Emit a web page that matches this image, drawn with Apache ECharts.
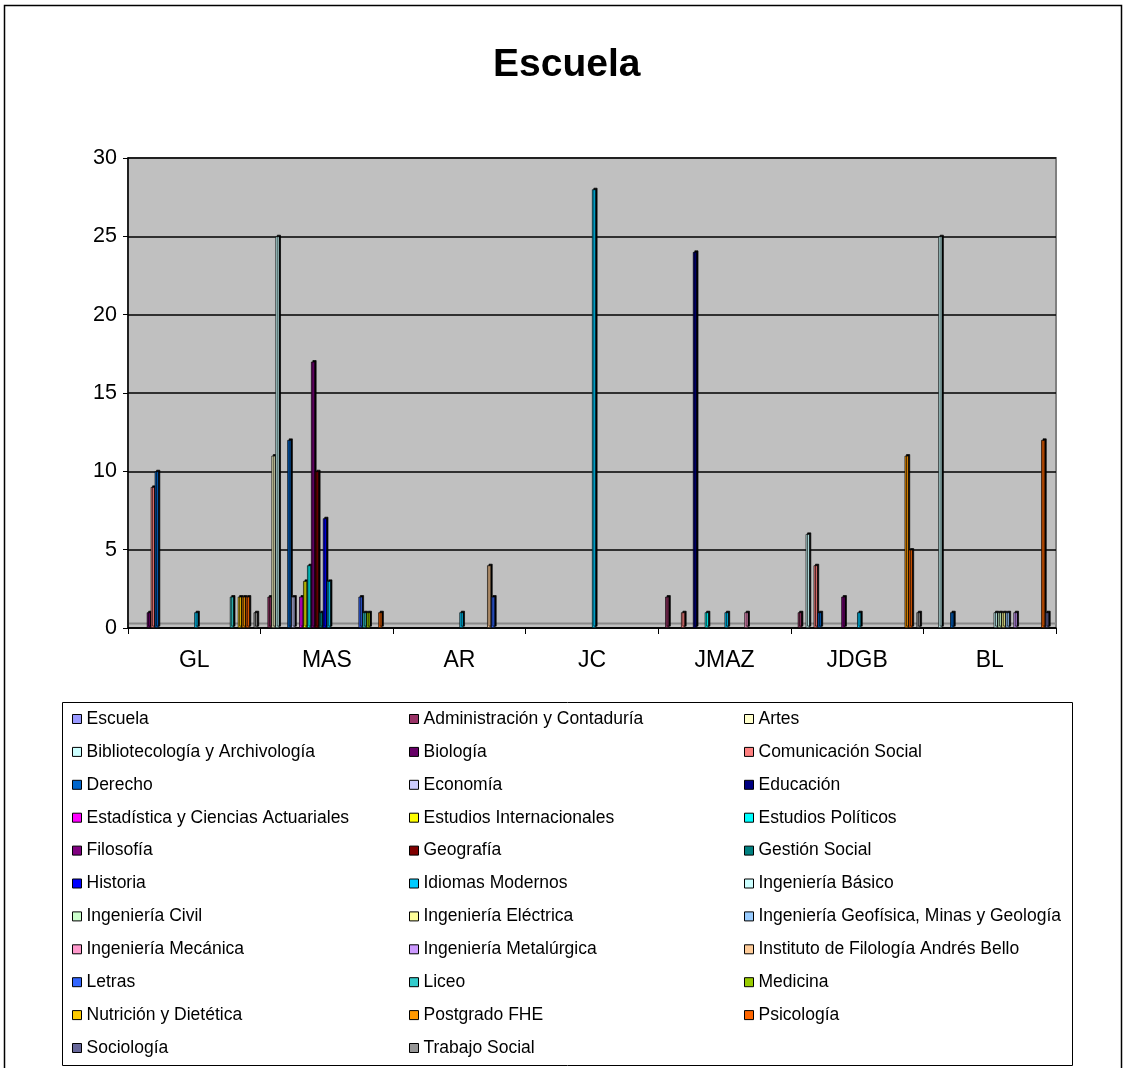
<!DOCTYPE html>
<html>
<head>
<meta charset="utf-8">
<title>Escuela</title>
<script src="https://cdn.jsdelivr.net/npm/echarts@6/dist/echarts.min.js"></script>
<style>
  html, body { margin: 0; padding: 0; background: #fff; }
  #chart { width: 1125px; height: 1068px; }
</style>
</head>
<body>
<div id="chart"></div>
<script>
// Campus / building codes on the category axis
var sedes = ['GL', 'MAS', 'AR', 'JC', 'JMAZ', 'JDGB', 'BL'];

// Schools (one series each), in legend order
var escuelas = [
  'Escuela', 'Administración y Contaduría', 'Artes',
  'Bibliotecología y Archivología', 'Biología', 'Comunicación Social',
  'Derecho', 'Economía', 'Educación',
  'Estadística y Ciencias Actuariales', 'Estudios Internacionales', 'Estudios Políticos',
  'Filosofía', 'Geografía', 'Gestión Social',
  'Historia', 'Idiomas Modernos', 'Ingeniería Básico',
  'Ingeniería Civil', 'Ingeniería Eléctrica', 'Ingeniería Geofísica, Minas y Geología',
  'Ingeniería Mecánica', 'Ingeniería Metalúrgica', 'Instituto de Filología Andrés Bello',
  'Letras', 'Liceo', 'Medicina',
  'Nutrición y Dietética', 'Postgrado FHE', 'Psicología',
  'Sociología', 'Trabajo Social'
];

var colores = [
  '#9999FF', '#993366', '#FFFFCC', '#CCFFFF', '#660066', '#FF8080', '#0066CC', '#CCCCFF',
  '#000080', '#FF00FF', '#FFFF00', '#00FFFF', '#800080', '#800000', '#008080', '#0000FF',
  '#00CCFF', '#CCFFFF', '#CCFFCC', '#FFFF99', '#99CCFF', '#FF99CC', '#CC99FF', '#FFCC99',
  '#3366FF', '#33CCCC', '#99CC00', '#FFCC00', '#FF9900', '#FF6600', '#666699', '#969696'
];

// Counts per campus, one value per school (same order as escuelas)
var GL   = [0,0,0,0,1,9,10,0, 0,0,0,0,0,0,0,0, 1,0,0,0,0,0,0,0, 0,2,0,2,2,2,0,1];
var MAS  = [0,2,11,25,0,0,12,2, 0,2,3,4,17,10,1,7, 3,0,0,0,0,0,0,0, 2,1,1,0,0,1,0,0];
var AR   = [0,0,0,0,0,0,0,0, 0,0,0,0,0,0,0,0, 1,0,0,0,0,0,0,4, 2,0,0,0,0,0,0,0];
var JC   = [0,0,0,0,0,0,0,0, 0,0,0,0,0,0,0,0, 28,0,0,0,0,0,0,0, 0,0,0,0,0,0,0,0];
var JMAZ = [0,2,0,0,0,1,0,0, 24,0,0,1,0,0,0,0, 1,0,0,0,0,1,0,0, 0,0,0,0,0,0,0,0];
var JDGB = [0,1,0,6,0,4,1,0, 0,0,0,0,2,0,0,0, 1,0,0,0,0,0,0,0, 0,0,0,0,11,5,0,1];
var BL   = [0,0,0,25,0,0,1,0, 0,0,0,0,0,0,0,0, 0,1,1,1,1,0,1,0, 0,0,0,0,0,12,1,0];

var yTicks = [0, 5, 10, 15, 20, 25, 30];

var porSede = [GL, MAS, AR, JC, JMAZ, JDGB, BL];
var FONT = 'Liberation Sans, Arial, sans-serif';

var series = escuelas.map(function (nombre, i) {
  return {
    name: nombre,
    type: 'bar',
    barGap: '0%',
    barCategoryGap: '4.5%',
    data: porSede.map(function (fila) { return fila[i] === 0 ? null : fila[i]; }),
    itemStyle: {
      color: colores[i],
      borderColor: '#000',
      borderWidth: 0.7,
      shadowColor: '#000',
      shadowBlur: 0,
      shadowOffsetX: 1.5,
      shadowOffsetY: -1.5
    },
    emphasis: { disabled: true },
    animation: false
  };
});

// Three legend columns laid out row by row
function columna(k) {
  return escuelas.filter(function (_, i) { return i % 3 === k; });
}
var legendX = [72, 409, 744];
var legends = legendX.map(function (x, k) {
  return {
    orient: 'vertical',
    left: x,
    top: 709,
    padding: 0,
    itemWidth: 9,
    itemHeight: 9,
    itemGap: 12.9,
    icon: 'rect',
    selectedMode: false,
    data: columna(k),
    itemStyle: { borderColor: '#000', borderWidth: 1, shadowOffsetX: 0, shadowOffsetY: 0, shadowBlur: 0 },
    textStyle: { fontFamily: FONT, fontSize: 17.5, color: '#000', lineHeight: 20 }
  };
});

var chart = echarts.init(document.getElementById('chart'), null, { renderer: 'canvas' });
chart.setOption({
  backgroundColor: '#fff',
  animation: false,
  title: {
    text: 'Escuela',
    left: 488,
    top: 41,
    textStyle: { fontFamily: FONT, fontSize: 39, fontWeight: 'bold', color: '#000' }
  },
  legend: legends,
  grid: {
    left: 128, right: 69, top: 158, bottom: 440,
    show: true,
    backgroundColor: '#C0C0C0',
    borderColor: '#808080',
    borderWidth: 2
  },
  xAxis: {
    type: 'category',
    data: sedes,
    boundaryGap: true,
    axisLine: { lineStyle: { color: '#000', width: 1.5 } },
    axisTick: { show: true, interval: 0, length: 6, lineStyle: { color: '#000' } },
    axisLabel: { fontFamily: FONT, fontSize: 23, color: '#000', margin: 21 },
    splitLine: { show: false }
  },
  yAxis: {
    type: 'value',
    min: yTicks[0],
    max: yTicks[yTicks.length - 1],
    interval: 5,
    axisLine: { show: true, lineStyle: { color: '#000', width: 1.5 } },
    axisTick: { show: true, length: 5, lineStyle: { color: '#000' } },
    axisLabel: { fontFamily: FONT, fontSize: 21.5, color: '#000', margin: 11 },
    splitLine: { show: true, lineStyle: { color: '#000', width: 1.5 } }
  },
  graphic: [
    // outer chart frame
    { type: 'rect', shape: { x: 4.5, y: 5.5, width: 1117, height: 1080 },
      style: { fill: null, stroke: '#000', lineWidth: 1.5 }, silent: true, z: -1 },
    // legend frame
    { type: 'rect', shape: { x: 62.5, y: 702.5, width: 1010, height: 363 },
      style: { fill: null, stroke: '#000', lineWidth: 1 }, silent: true },
    // floor edge of the plot
    { type: 'line', shape: { x1: 129, y1: 623.5, x2: 1056, y2: 623.5 },
      style: { stroke: '#8a8a8a', lineWidth: 2 }, silent: true, z: 1 }
  ],
  series: series
});
</script>
</body>
</html>
